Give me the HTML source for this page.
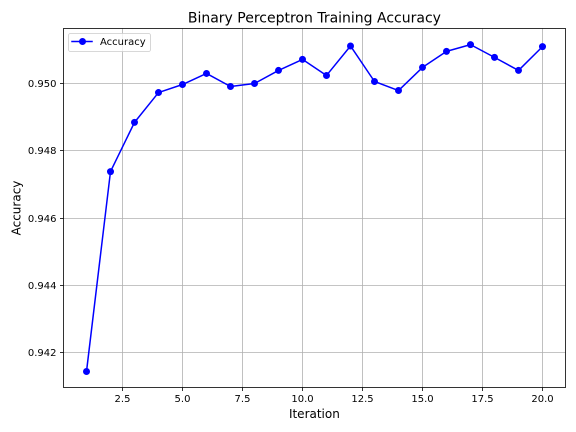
<!DOCTYPE html>
<html>
<head>
<meta charset="utf-8">
<style>
html,body{margin:0;padding:0;background:#fff;}
svg{display:block;}
text{font-family:"DejaVu Sans","Liberation Sans",sans-serif;fill:#000;}
</style>
</head>
<body>
<svg id="chart" xmlns="http://www.w3.org/2000/svg" width="576" height="432" viewBox="0 0 576 432">
  <rect x="0" y="0" width="576" height="432" fill="#fff"/>
  <g id="grid"></g>
  <g id="series"></g>
  <rect x="63.5" y="28.5" width="502" height="359" fill="none" stroke="#000" stroke-width="0.8"/>
  <g id="ticks"></g>
  <text x="314.4" y="22.3" font-size="14" text-anchor="middle">Binary Perceptron Training Accuracy</text>
  <text x="314.4" y="418" font-size="12" text-anchor="middle">Iteration</text>
  <text transform="translate(20.5,208) rotate(-90)" font-size="12" text-anchor="middle">Accuracy</text>
  <g>
    <rect x="68.5" y="33.5" width="82" height="18" rx="2" ry="2" fill="#fff" fill-opacity="0.8" stroke="#ccc" stroke-width="0.8"/>
    <line x1="72" y1="41.5" x2="92" y2="41.5" stroke="#0000ff" stroke-width="1.5" stroke-linecap="square"/>
    <circle cx="82.5" cy="41.5" r="3.5" fill="#0000ff"/>
    <text x="100" y="45.2" font-size="10">Accuracy</text>
  </g>
</svg>
<script>
const iterations = [1,2,3,4,5,6,7,8,9,10,11,12,13,14,15,16,17,18,19,20];
const accuracy = [0.941435,0.94738,0.948844,0.949731,0.94997,0.950299,0.94991,0.95,0.950389,0.950717,0.950239,0.951116,0.95006,0.949791,0.950478,0.950956,0.951156,0.950777,0.950389,0.951096];
const xTicks = [2.5,5,7.5,10,12.5,15,17.5,20];
const yTicks = [0.942,0.944,0.946,0.948,0.95];

const NS = 'http://www.w3.org/2000/svg';
const left = 63.5, right = 565.5, top_ = 28.5, bottom = 387.5;
function xScale(v){ return 122.5 + (v - 2.5) * 24; }
function yScale(v){ return 83.5 + (0.95 - v) * 33625; }
function snap(p){ return Math.floor(p) + 0.5; }
function make(tag, attrs, parent){
  const el = document.createElementNS(NS, tag);
  for (const k in attrs) el.setAttribute(k, attrs[k]);
  parent.appendChild(el);
  return el;
}
const gridG = document.getElementById('grid');
const tickG = document.getElementById('ticks');
const seriesG = document.getElementById('series');

xTicks.forEach(function(t){
  const x = snap(xScale(t));
  const g = make('line', {x1:x, x2:x, y1:top_, y2:bottom, stroke:'#b0b0b0', 'stroke-width':0.8}, gridG);
  
  
  const m = make('line', {x1:x, x2:x, y1:bottom, y2:bottom+3.5, stroke:'#000', 'stroke-width':0.8}, tickG);
  
  
  const l = make('text', {x:x, y:bottom+14.3, 'font-size':10, 'text-anchor':'middle'}, tickG);
  
  
  l.textContent = t.toFixed(1);
});
yTicks.forEach(function(t){
  const y = snap(yScale(t));
  const g = make('line', {x1:left, x2:right, y1:y, y2:y, stroke:'#b0b0b0', 'stroke-width':0.8}, gridG);
  
  
  const m = make('line', {x1:left-3.5, x2:left, y1:y, y2:y, stroke:'#000', 'stroke-width':0.8}, tickG);
  
  
  const l = make('text', {x:left-7, y:y+3.7, 'font-size':10, 'text-anchor':'end'}, tickG);
  
  
  l.textContent = t.toFixed(3);
});

const pts = iterations.map(function(it, i){ return xScale(it) + ',' + yScale(accuracy[i]); }).join(' ');
const poly = make('polyline', {points:pts, fill:'none', stroke:'#0000ff', 'stroke-width':1.5, 'stroke-linejoin':'round'}, seriesG);


iterations.forEach(function(it, i){
  const c = make('circle', {cx:xScale(it), cy:yScale(accuracy[i]), r:3.5, fill:'#0000ff'}, seriesG);
  
  
});
</script>
</body>
</html>
